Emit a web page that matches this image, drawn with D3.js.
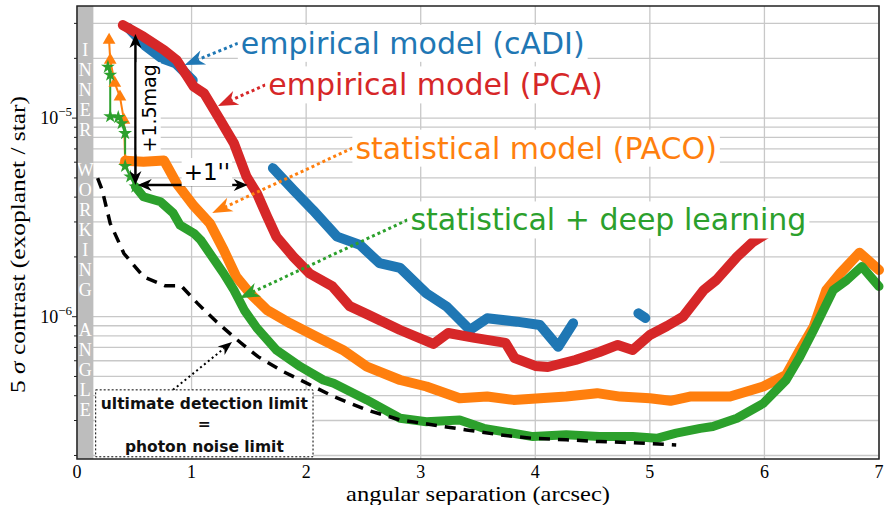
<!DOCTYPE html>
<html>
<head>
<meta charset="utf-8">
<script src="https://cdn.jsdelivr.net/npm/d3@7"></script>
<style>
  body { margin: 0; background: #fff; }
  svg { display: block; }
</style>
</head>
<body>
<svg id="chart" width="884" height="505"></svg>
<script>
// ---- data (separation in arcsec, 5 sigma contrast) ----
const cadiSep = [0.45, 0.59, 0.74, 0.86, 1.01, null, 1.71, 1.89, 2.06, 2.27, 2.47, 2.64, 2.82, 3.05, 3.23, 3.43, 3.58, 3.84, 4.04, 4.20, 4.33, null, 4.90, 4.96]
const cadiContrast = [2.84e-5, 2.33e-5, 2.0e-5, 1.89e-5, 1.55e-5, null, 5.6e-6, 4.34e-6, 3.44e-6, 2.53e-6, 2.3e-6, 1.86e-6, 1.76e-6, 1.31e-6, 1.12e-6, 8.57e-7, 9.82e-7, 9.44e-7, 9.08e-7, 7.06e-7, 9.26e-7, null, 1.04e-6, 9.85e-7]

const pcaSep = [0.40, 0.58, 0.76, 0.87, 1.02, 1.11, 1.25, 1.37, 1.48, 1.57, 1.66, 1.74, 1.89, 2.03, 2.23, 2.38, 2.53, 2.82, 3.11, 3.24, 3.47, 3.74, 3.82, 4.00, 4.11, 4.35, 4.56, 4.72, 4.85, 5.00, 5.15, 5.29, 5.47, 5.58, 5.76, 5.90, 6.07, 6.22]
const pcaContrast = [2.94e-5, 2.57e-5, 2.2e-5, 1.96e-5, 1.44e-5, 1.33e-5, 9.77e-6, 7.46e-6, 5.07e-6, 4.18e-6, 3.19e-6, 2.53e-6, 2.0e-6, 1.65e-6, 1.42e-6, 1.13e-6, 1.03e-6, 8.57e-7, 7.29e-7, 8.28e-7, 7.82e-7, 7.38e-7, 6.19e-7, 5.65e-7, 5.58e-7, 6.05e-7, 6.64e-7, 7.21e-7, 6.8e-7, 8.09e-7, 8.98e-7, 1.0e-6, 1.36e-6, 1.53e-6, 2.0e-6, 2.38e-6, 2.73e-6, 3.37e-6]

const pacoInnerSep = [0.28, 0.29, 0.33, 0.375, 0.41, 0.42]
const pacoInnerContrast = [2.47e-5, 1.96e-5, 1.5e-5, 1.28e-5, 9.77e-6, 6.1e-6]
const pacoSep = [0.42, 0.58, 0.76, 0.87, 1.02, 1.16, 1.28, 1.39, 1.51, 1.66, 1.86, 2.09, 2.32, 2.53, 2.82, 3.05, 3.34, 3.58, 3.81, 4.04, 4.27, 4.54, 4.74, 5.00, 5.18, 5.35, 5.70, 5.99, 6.19, 6.31, 6.43, 6.54, 6.66, 6.83, 7.00]
const pacoContrast = [6.1e-6, 6.03e-6, 6.11e-6, 4.69e-6, 3.61e-6, 2.95e-6, 2.17e-6, 1.59e-6, 1.31e-6, 1.08e-6, 9.26e-7, 7.93e-7, 6.8e-7, 5.6e-7, 4.8e-7, 4.45e-7, 3.88e-7, 3.96e-7, 3.81e-7, 3.88e-7, 3.96e-7, 4.12e-7, 3.96e-7, 3.88e-7, 3.77e-7, 3.96e-7, 3.96e-7, 4.45e-7, 5.09e-7, 6.8e-7, 8.91e-7, 1.36e-6, 1.65e-6, 2.1e-6, 1.72e-6]

const deepInnerSep = [0.27, 0.29, 0.29, 0.36, 0.39, 0.42, 0.42, 0.465, 0.51]
const deepInnerContrast = [1.81e-5, 1.65e-5, 1.02e-5, 1.01e-5, 9.4e-6, 8.38e-6, 5.73e-6, 5.07e-6, 4.51e-6]
const deepSep = [0.51, 0.58, 0.73, 0.84, 0.90, 1.02, 1.08, 1.16, 1.28, 1.37, 1.46, 1.57, 1.74, 1.95, 2.15, 2.24, 2.53, 2.82, 3.05, 3.34, 3.55, 3.98, 4.27, 4.56, 4.85, 5.06, 5.23, 5.44, 5.55, 5.76, 5.99, 6.19, 6.31, 6.43, 6.60, 6.72, 6.85, 7.00]
const deepContrast = [4.51e-6, 4.02e-6, 3.79e-6, 3.32e-6, 2.89e-6, 2.63e-6, 2.43e-6, 2.08e-6, 1.65e-6, 1.36e-6, 1.08e-6, 8.77e-7, 6.8e-7, 5.6e-7, 4.8e-7, 4.62e-7, 3.81e-7, 3.08e-7, 2.96e-7, 3.02e-7, 2.74e-7, 2.49e-7, 2.54e-7, 2.49e-7, 2.49e-7, 2.44e-7, 2.59e-7, 2.74e-7, 2.8e-7, 3.08e-7, 3.66e-7, 4.8e-7, 6.29e-7, 8.57e-7, 1.36e-6, 1.53e-6, 1.79e-6, 1.42e-6]

const photonSep = [0.18, 0.22, 0.29, 0.41, 0.58, 0.77, 0.91, 1.05, 1.22, 1.40, 1.58, 1.80, 1.95, 2.24, 2.53, 2.82, 3.11, 3.40, 3.69, 3.98, 4.27, 4.56, 4.85, 5.23]
const photonContrast = [4.99e-6, 4.34e-6, 2.95e-6, 2.08e-6, 1.59e-6, 1.43e-6, 1.43e-6, 1.17e-6, 9.4e-7, 7.63e-7, 6.29e-7, 5.29e-7, 4.8e-7, 3.96e-7, 3.39e-7, 3.02e-7, 2.85e-7, 2.69e-7, 2.54e-7, 2.44e-7, 2.4e-7, 2.35e-7, 2.32e-7, 2.26e-7]

const xTicks = [0, 1, 2, 3, 4, 5, 6, 7]
const yMajorTicks = [1e-6, 1e-5]
const yTickLabels = ['\u22126', '\u22125']
const innerWorkingAngle = 0.143
const bandLetters = ['I', 'N', 'N', 'E', 'R', '', 'W', 'O', 'R', 'K', 'I', 'N', 'G', '', 'A', 'N', 'G', 'L', 'E']

const labelTexts = ['empirical model (cADI)', 'empirical model (PCA)', 'statistical model (PACO)', 'statistical + deep learning']
const colors = ['#1f77b4', '#d62728', '#ff7f0e', '#2ca02c']

const zip = (a, b) => a.map((v, i) => [v, b[i]])

const margin = { top: 6, right: 5, bottom: 46, left: 77 }
const width = 884 - margin.left - margin.right
const height = 505 - margin.top - margin.bottom

const svg = d3.select('#chart')

const x = d3.scaleLinear().domain([0, 7]).range([margin.left, margin.left + width])
const y = d3.scaleLog().domain([1.92e-7, 3.67e-5]).range([margin.top + height, margin.top])

const serif = '"Liberation Serif", "DejaVu Serif", serif'
const sans = '"DejaVu Sans", Verdana, sans-serif'

// grid
const grid = svg.append('g')
const minorVals = []
for (let e = -7; e <= -5; e++) {
  for (let k = 1; k <= 9; k++) {
    const v = k * Math.pow(10, e)
    if (v >= y.domain()[0] && v <= y.domain()[1]) minorVals.push(v)
  }
}
grid.selectAll('line.h')
  .data(minorVals)
  .enter()
  .append('line')
  .attr('x1', margin.left)
  .attr('x2', margin.left + width)
  .attr('y1', d => y(d))
  .attr('y2', d => y(d))
  .attr('stroke', '#c8c8c8')
  .attr('stroke-width', 1.3)
grid.selectAll('line.v')
  .data(xTicks)
  .enter()
  .append('line')
  .attr('x1', d => x(d))
  .attr('x2', d => x(d))
  .attr('y1', margin.top)
  .attr('y2', margin.top + height)
  .attr('stroke', '#c8c8c8')
  .attr('stroke-width', 1.3)

// inner working angle band
svg.append('rect')
  .attr('x', x(0))
  .attr('y', margin.top)
  .attr('width', x(innerWorkingAngle) - x(0))
  .attr('height', height)
  .attr('fill', '#bdbdbd')

svg.append('g')
  .selectAll('text')
  .data(bandLetters)
  .enter()
  .append('text')
  .text(d => d)
  .attr('x', (x(0) + x(innerWorkingAngle)) / 2)
  .attr('y', (d, i) => margin.top + 50 + 20 * i)
  .attr('text-anchor', 'middle')
  .attr('font-family', '"Liberation Serif", serif')
  .attr('font-size', 18)
  .attr('fill', '#ffffff')

// curves
const line = d3.line()
  .defined(d => d[0] != null && d[1] != null)
  .x(d => x(d[0]))
  .y(d => y(d[1]))

const curves = svg.append('g').attr('fill', 'none').attr('stroke-linejoin', 'round').attr('stroke-linecap', 'round')

curves.append('path').attr('d', line(zip(cadiSep, cadiContrast))).attr('stroke', colors[0]).attr('stroke-width', 10)
curves.append('path').attr('d', line(zip(pcaSep, pcaContrast))).attr('stroke', colors[1]).attr('stroke-width', 10)

curves.append('path').attr('d', line(zip(pacoInnerSep, pacoInnerContrast))).attr('stroke', colors[2]).attr('stroke-width', 2)
curves.append('path').attr('d', line(zip(pacoSep, pacoContrast))).attr('stroke', colors[2]).attr('stroke-width', 10)
svg.append('g')
  .selectAll('path')
  .data(zip(pacoInnerSep, pacoInnerContrast))
  .enter()
  .append('path')
  .attr('d', d3.symbol().type(d3.symbolTriangle).size(70))
  .attr('transform', d => `translate(${x(d[0])},${y(d[1])})`)
  .attr('fill', colors[2])

curves.append('path').attr('d', line(zip(deepInnerSep, deepInnerContrast))).attr('stroke', colors[3]).attr('stroke-width', 2)
curves.append('path').attr('d', line(zip(deepSep, deepContrast))).attr('stroke', colors[3]).attr('stroke-width', 9)
svg.append('g')
  .selectAll('path')
  .data(zip(deepInnerSep, deepInnerContrast))
  .enter()
  .append('path')
  .attr('d', d3.symbol().type(d3.symbolStar).size(60))
  .attr('transform', d => `translate(${x(d[0])},${y(d[1])})`)
  .attr('fill', colors[3])

svg.append('path')
  .attr('d', line(zip(photonSep, photonContrast)))
  .attr('fill', 'none')
  .attr('stroke', '#000')
  .attr('stroke-width', 3.5)
  .attr('stroke-dasharray', '11,8')

// helpers for annotations
function arrowHead(g, tip, from, len, halfW, color) {
  const a = Math.atan2(tip[1] - from[1], tip[0] - from[0])
  const c = Math.cos(a)
  const s = Math.sin(a)
  const pts = [[0, 0], [-len, -halfW], [-len * 0.7, 0], [-len, halfW]]
    .map(p => [tip[0] + p[0] * c - p[1] * s, tip[1] + p[0] * s + p[1] * c])
  g.append('path').attr('d', 'M' + pts.join('L') + 'Z').attr('fill', color)
  return [tip[0] - len * 0.7 * c, tip[1] - len * 0.7 * s]
}

function boxedText(g, txt, px, py, opts) {
  const t = g.append('text')
    .text(txt)
    .attr('x', px)
    .attr('y', py)
    .attr('font-family', opts.font || sans)
    .attr('font-size', opts.size)
    .attr('fill', opts.color || '#000')
    .attr('text-anchor', opts.anchor || 'start')
    .attr('dominant-baseline', 'central')
  if (opts.rotate) t.attr('transform', `rotate(${opts.rotate},${px},${py})`)
  const b = t.node().getBBox()
  const pad = opts.pad == null ? 3 : opts.pad
  g.insert('rect', function() { return t.node() })
    .attr('x', b.x - pad)
    .attr('y', b.y - 1)
    .attr('width', b.width + 2 * pad)
    .attr('height', b.height + 2)
    .attr('fill', '#fff')
    .attr('transform', opts.rotate ? `rotate(${opts.rotate},${px},${py})` : null)
  return b
}

const ann = svg.append('g')

// black double arrows "+1.5mag" and "+1''"
const corner = [x(0.51), y(4.6e-6)]
ann.append('line')
  .attr('x1', corner[0]).attr('y1', y(2.4e-5))
  .attr('x2', corner[0]).attr('y2', corner[1] - 10)
  .attr('stroke', '#000').attr('stroke-width', 2.5)
arrowHead(ann, [corner[0], y(2.65e-5)], [corner[0], corner[1]], 14, 6, '#000')
arrowHead(ann, [corner[0], corner[1]], [corner[0], y(2.65e-5)], 14, 6, '#000')
ann.append('line')
  .attr('x1', x(0.56)).attr('y1', corner[1])
  .attr('x2', x(1.43)).attr('y2', corner[1])
  .attr('stroke', '#000').attr('stroke-width', 2.5)
arrowHead(ann, [x(0.53), corner[1]], [x(1.49), corner[1]], 14, 6, '#000')
arrowHead(ann, [x(1.49), corner[1]], [x(0.53), corner[1]], 14, 6, '#000')

boxedText(ann, '+1.5mag', x(0.626), y(1.12e-5), { size: 19, rotate: -90, anchor: 'middle', pad: 2 })
boxedText(ann, "+1''", x(1.134), y(5.35e-6), { size: 23, anchor: 'middle', pad: 2 })

// coloured labels with dotted arrows
const labelAt = [[1.43, 2.38e-5], [1.67, 1.47e-5], [2.43, 7.06e-6], [2.91, 3.07e-6]]
const labelTip = [[0.94, 1.85e-5], [1.23, 1.15e-5], [1.18, 3.33e-6], [1.42, 1.24e-6]]
labelTexts.forEach((txt, i) => {
  const start = [x(labelAt[i][0]) - 3, y(labelAt[i][1])]
  const tip = [x(labelTip[i][0]), y(labelTip[i][1])]
  const base = arrowHead(ann, tip, start, 20, 7.5, colors[i])
  ann.append('line')
    .attr('x1', start[0]).attr('y1', start[1])
    .attr('x2', base[0]).attr('y2', base[1])
    .attr('stroke', colors[i])
    .attr('stroke-width', 3)
    .attr('stroke-dasharray', '3,3')
  boxedText(ann, txt, x(labelAt[i][0]), y(labelAt[i][1]), { size: 30, color: colors[i] })
})

// photon noise box
const boxL = x(0.163), boxR = x(2.06), boxT = y(4.28e-7), boxB = y(1.97e-7)
const blackTip = [x(1.353), y(7.46e-7)]
const blackStart = [x(0.838), boxT]
const bBase = arrowHead(ann, blackTip, blackStart, 14, 5.5, '#000')
ann.append('line')
  .attr('x1', blackStart[0]).attr('y1', blackStart[1])
  .attr('x2', bBase[0]).attr('y2', bBase[1])
  .attr('stroke', '#000').attr('stroke-width', 2).attr('stroke-dasharray', '2,3')
ann.append('rect')
  .attr('x', boxL).attr('y', boxT)
  .attr('width', boxR - boxL).attr('height', boxB - boxT)
  .attr('fill', '#fff')
  .attr('stroke', '#000').attr('stroke-width', 1).attr('stroke-dasharray', '2,2')
const boxLines = ['ultimate detection limit', '=', 'photon noise limit']
ann.selectAll('text.box')
  .data(boxLines)
  .enter()
  .append('text')
  .text(d => d)
  .attr('x', (boxL + boxR) / 2)
  .attr('y', (d, i) => boxT + [19, 39, 62][i])
  .attr('text-anchor', 'middle')
  .attr('font-family', sans)
  .attr('font-weight', 'bold')
  .attr('font-size', 15.5)
  .attr('fill', '#111')

// axes frame and ticks
svg.append('rect')
  .attr('x', margin.left).attr('y', margin.top)
  .attr('width', width).attr('height', height)
  .attr('fill', 'none').attr('stroke', '#222').attr('stroke-width', 1.5)

svg.append('g')
  .selectAll('line')
  .data(minorVals)
  .enter()
  .append('line')
  .attr('x1', d => margin.left - (yMajorTicks.includes(d) ? 5 : 3))
  .attr('x2', margin.left)
  .attr('y1', d => y(d))
  .attr('y2', d => y(d))
  .attr('stroke', '#222')
  .attr('stroke-width', 1)

const yLab = svg.append('g')
  .selectAll('text')
  .data(yMajorTicks)
  .enter()
  .append('text')
  .attr('x', margin.left - 5)
  .attr('y', d => y(d) + 6)
  .attr('text-anchor', 'end')
  .attr('font-family', serif)
  .attr('font-size', 18)
yLab.append('tspan').text('10')
yLab.append('tspan').text((d, i) => yTickLabels[i]).attr('dy', -8).attr('font-size', 13)

svg.append('g')
  .selectAll('text')
  .data(xTicks)
  .enter()
  .append('text')
  .text(d => d)
  .attr('x', d => x(d))
  .attr('y', margin.top + height + 19)
  .attr('text-anchor', 'middle')
  .attr('font-family', serif)
  .attr('font-size', 18)

svg.append('text')
  .text('angular separation (arcsec)')
  .attr('x', (x(0) + x(7)) / 2)
  .attr('y', 501)
  .attr('text-anchor', 'middle')
  .attr('font-family', serif)
  .attr('font-size', 21)
  .attr('textLength', 264)
  .attr('lengthAdjust', 'spacingAndGlyphs')

const yTitle = svg.append('text')
  .attr('transform', `translate(25,${(margin.top + height + margin.top) / 2 + 12}) rotate(-90)`)
  .attr('text-anchor', 'middle')
  .attr('font-family', serif)
  .attr('font-size', 22)
  .attr('textLength', 297)
  .attr('lengthAdjust', 'spacingAndGlyphs')
yTitle.append('tspan').text('5 ')
yTitle.append('tspan').text('\u03c3').attr('font-style', 'italic')
yTitle.append('tspan').text(' contrast (exoplanet / star)')
</script>
</body>
</html>
